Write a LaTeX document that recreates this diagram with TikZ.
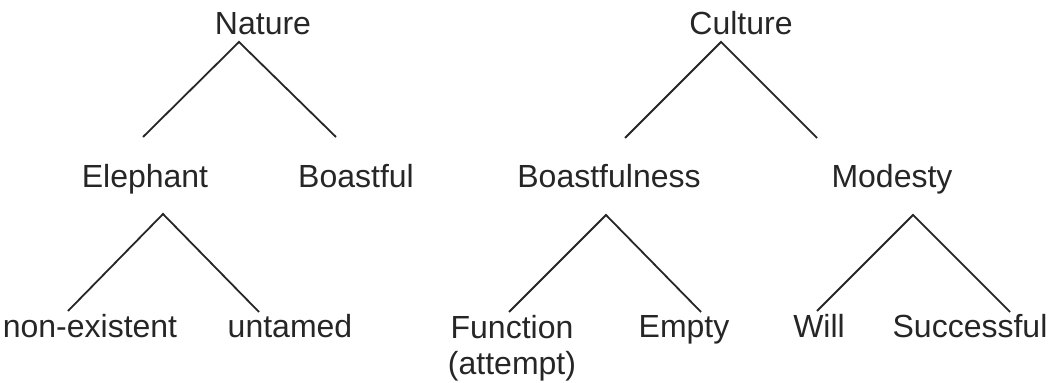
\documentclass[tikz,border=0pt]{standalone}
\usepackage{fontspec}
\setmainfont{Liberation Sans}
\usepackage{tikz}
\newcommand{\pixelsize}{0.5pt}

\begin{document}
\begin{tikzpicture}[x=\pixelsize,y=-\pixelsize,
	word/.style={anchor=base,inner sep=0pt,align=center,font=\fontsize{16}{18}\selectfont,text=black!85},
	branch/.style={line width=0.9pt,draw=black!85}]
	\useasboundingbox (0,0) rectangle (1052,383);
	\node [word] (Nature) at (263,35) {Nature};
	\node [word] (Culture) at (741,35) {Culture};
	\node [word] (Elephant) at (145,188) {Elephant};
	\node [word] (Boastful) at (356,188) {Boastful};
	\node [word] (Boastfulness) at (609,188) {Boastfulness};
	\node [word] (Modesty) at (892,188) {Modesty};
	\node [word] (Nonexistent) at (90,338) {non-existent};
	\node [word] (Untamed) at (290,338) {untamed};
	\node [word] (Function) at (512,375) {Function\\(attempt)};
	\node [word] (Empty) at (684,338) {Empty};
	\node [word] (Will) at (819,338) {Will};
	\node [word] (Successful) at (970,338) {Successful};

	\coordinate (NatureTop) at (239,42);
	\coordinate (NatureLeft) at (143,137);
	\coordinate (NatureRight) at (336,137);
	\coordinate (CultureTop) at (721,42);
	\coordinate (CultureLeft) at (625,138);
	\coordinate (CultureRight) at (817,138);
	\coordinate (ElephantTop) at (163,214);
	\coordinate (ElephantLeft) at (68,311);
	\coordinate (ElephantRight) at (259,312);
	\coordinate (BoastfulnessTop) at (606,215);
	\coordinate (BoastfulnessLeft) at (509,312);
	\coordinate (BoastfulnessRight) at (701,312);
	\coordinate (ModestyTop) at (913,215);
	\coordinate (ModestyLeft) at (817,311);
	\coordinate (ModestyRight) at (1010,312);

	\draw[branch] (NatureLeft) -- (NatureTop) -- (NatureRight);
	\draw[branch] (CultureLeft) -- (CultureTop) -- (CultureRight);
	\draw[branch] (ElephantLeft) -- (ElephantTop) -- (ElephantRight);
	\draw[branch] (BoastfulnessLeft) -- (BoastfulnessTop) -- (BoastfulnessRight);
	\draw[branch] (ModestyLeft) -- (ModestyTop) -- (ModestyRight);
\end{tikzpicture}
\end{document}
